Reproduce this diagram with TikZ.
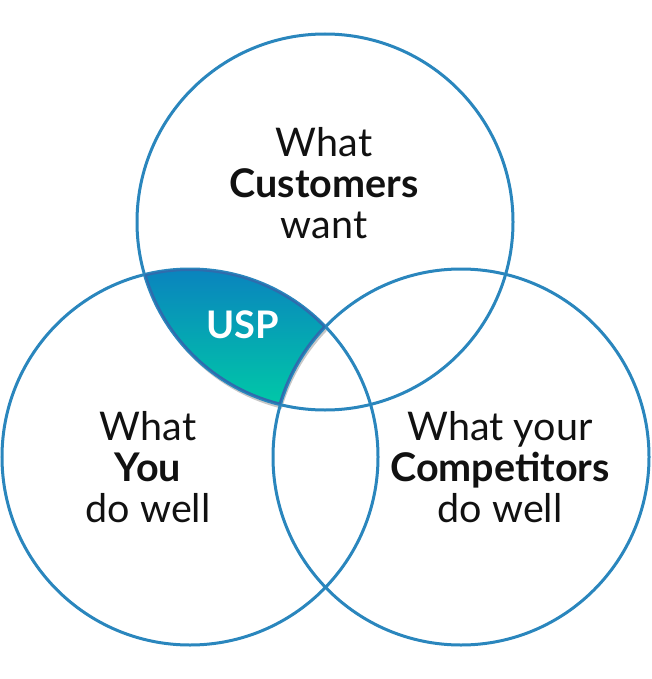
\documentclass[tikz,border=0pt]{standalone}
\usepackage{fontspec}
\setmainfont{Lato}
\usepackage{tikz}
\usetikzlibrary{shapes}
\definecolor{ringblue}{HTML}{2A86BD}
\definecolor{uspedge}{HTML}{2E6CAD}
\definecolor{usptop}{HTML}{0A84BE}
\definecolor{uspbottom}{HTML}{00C9A7}
\definecolor{ink}{HTML}{111111}

\begin{document}
\begin{tikzpicture}[x=1pt,y=-1pt,ring/.style={draw=ringblue,line width=3pt,circle,minimum size=376pt,inner sep=0pt},words/.style={align=center,inner sep=0pt,text=ink,font=\fontsize{39.5}{41}\selectfont}]
  \useasboundingbox (0,0) rectangle (651,679);
  \begin{scope}[shift={(1.5,4)},even odd rule]
    \clip (325,222) circle[radius=188pt];
    \clip (190,457) circle[radius=188pt];
    \clip (0,0) rectangle (651,679) (461,457) circle[radius=188pt];
    \fill[black,opacity=0.22] (130,260) rectangle (390,420);
  \end{scope}
  \begin{scope}[even odd rule]
    \clip (325,222) circle[radius=188pt];
    \clip (190,457) circle[radius=188pt];
    \clip (0,0) rectangle (651,679) (461,457) circle[radius=188pt];
    \shade[top color=usptop,bottom color=uspbottom] (135,270) rectangle (340,406);
  \end{scope}
  \node[ring] (customers) at (325,222) {};
  \node[ring] (you) at (190,457) {};
  \node[ring] (rivals) at (461,457) {};
  \begin{scope}[even odd rule]
    \clip (325,222) circle[radius=188pt];
    \clip (190,457) circle[radius=188pt];
    \clip (0,0) rectangle (651,679) (461,457) circle[radius=188pt];
    \draw[uspedge,line width=4pt] (325,222) circle[radius=188pt] (190,457) circle[radius=188pt] (461,457) circle[radius=188pt];
  \end{scope}
  \node[words] (customerstext) at (324,183) {What\\\textbf{Customers}\\want};
  \node[words] (youtext) at (148,467) {What\\\textbf{You}\\do well};
  \node[words] (rivalstext) at (500,467) {What your\\\textbf{Competitors}\\do well};
  \node[inner sep=0pt,text=white,font=\fontsize{38}{41}\selectfont\bfseries] (usp) at (243,325) {USP};
\end{tikzpicture}
\end{document}
